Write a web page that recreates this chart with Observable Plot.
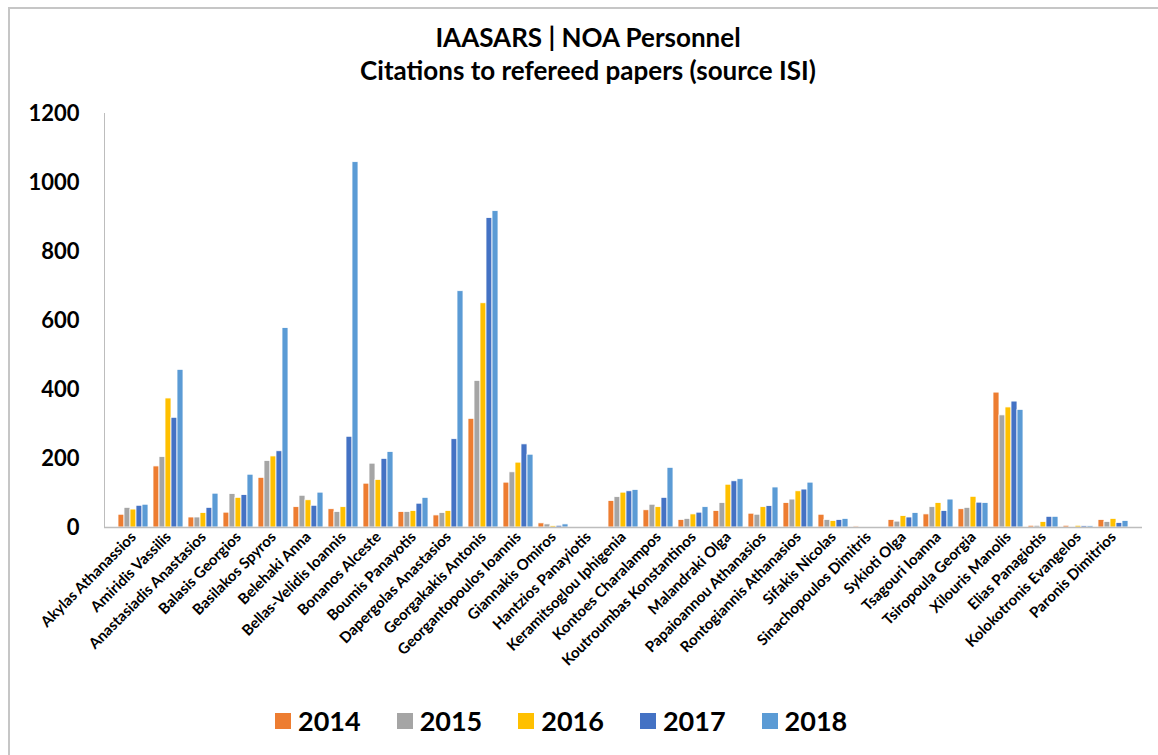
<!DOCTYPE html>
<html>
<head>
<meta charset="utf-8">
<script src="https://cdn.jsdelivr.net/npm/d3@7"></script>
<script src="https://cdn.jsdelivr.net/npm/@observablehq/plot@0.6"></script>
<style>
  html, body { margin: 0; padding: 0; background: #fff; }
  #wrap { position: relative; width: 1158px; height: 755px; overflow: hidden; font-family: Lato, "Open Sans", sans-serif; }
  #border { position: absolute; left: 8px; top: 7px; width: 1300px; height: 900px; border-top: 2px solid #c6c6c6; border-left: 2px solid #c6c6c6; }
  #title { position: absolute; left: 0; width: 1176px; top: 21px; text-align: center; font-weight: bold; font-size: 26px; line-height: 33px; color: #000; }
  .layer { position: absolute; left: 0; top: 0; }
  #legend { position: absolute; left: 275px; top: 704px; display: flex; gap: 36px; align-items: center; font-weight: bold; font-size: 27px; }
  .item { display: flex; align-items: center; gap: 7px; }
  .sw { width: 16px; height: 16px; display: inline-block; }
</style>
</head>
<body>
<div id="wrap">
  <div id="border"></div>
  <div id="title">IAASARS | NOA Personnel<br>Citations to refereed papers (source ISI)</div>
  <div id="chart" class="layer"></div>
  <div id="axes" class="layer"></div>
  <div id="legend"></div>
</div>
<script>
const names = [
  "Akylas Athanassios","Amiridis Vassilis","Anastasiadis Anastasios","Balasis Georgios",
  "Basilakos Spyros","Belehaki Anna","Bellas-Velidis Ioannis","Bonanos Alceste",
  "Boumis Panayotis","Dapergolas Anastasios","Georgakakis Antonis","Georgantopoulos Ioannis",
  "Giannakis Omiros","Hantzios Panayiotis","Keramitsoglou Iphigenia","Kontoes Charalampos",
  "Koutroumbas Konstantinos","Malandraki Olga","Papaioannou Athanasios","Rontogiannis Athanasios",
  "Sifakis Nicolas","Sinachopoulos Dimitris","Sykioti Olga","Tsagouri Ioanna",
  "Tsiropoula Georgia","Xilouris Manolis","Elias Panagiotis","Kolokotronis Evangelos","Paronis Dimitrios"
];
const years = ["2014","2015","2016","2017","2018"];
const colors = ["#ED7D31","#A5A5A5","#FFC000","#4472C4","#5B9BD5"];
const v2014 = [37,177,29,43,144,59,53,127,45,35,315,130,12,0,77,50,22,48,40,71,37,3,22,38,53,391,5,5,22];
const v2015 = [57,204,29,97,193,92,45,185,45,42,425,160,9,0,88,66,25,71,37,81,22,2,17,59,57,325,5,2,16];
const v2016 = [52,374,42,86,206,79,59,138,48,48,650,188,4,0,101,59,38,124,59,105,19,2,33,71,89,348,16,5,25];
const v2017 = [63,318,57,94,221,63,263,199,69,256,897,241,5,2,105,86,43,134,62,110,22,2,29,48,72,365,31,4,13];
const v2018 = [66,457,98,153,578,101,1059,219,86,685,917,211,9,2,109,173,59,140,116,130,25,2,42,81,71,341,31,4,19];
const yTicks = [0,200,400,600,800,1000,1200];

const series = [v2014, v2015, v2016, v2017, v2018];
const data = [];
names.forEach((n, i) => years.forEach((y, j) => data.push({name: n, year: y, value: series[j][i]})));

const W = 1158, H = 755, mL = 104, mR = 16, mT = 113, mB = 228;
const font = "Lato, 'Open Sans', sans-serif";

const chart = Plot.plot({
  width: W, height: H,
  marginLeft: mL, marginRight: mR, marginTop: mT, marginBottom: mB,
  style: {fontFamily: font, background: "transparent", color: "#000"},
  fx: {domain: names, paddingInner: 0.1, paddingOuter: 0.05, label: null},
  x: {domain: years, padding: 0, axis: null},
  y: {domain: [0, 1200], label: null},
  color: {domain: years, range: colors},
  marks: [
    Plot.barY(data, {fx: "name", x: "year", y: "value", fill: "year", stroke: "white", strokeWidth: 0.8}),
    Plot.axisY({ticks: yTicks, tickFormat: d => String(d), tickSize: 0, tickPadding: 38, fontSize: 22, fontWeight: "bold", label: null}),
    Plot.axisFx({anchor: "bottom", tickRotate: -45, tickSize: 0, tickPadding: 7, fontSize: 15, fontWeight: "bold", label: null})
  ]
});
document.getElementById("chart").appendChild(chart);

const axes = Plot.plot({
  width: W, height: H,
  marginLeft: mL, marginRight: mR, marginTop: mT, marginBottom: mB,
  style: {background: "transparent"},
  x: {domain: [0, 1], axis: null},
  y: {domain: [0, 1200], axis: null},
  marks: [
    Plot.ruleX([0], {y1: 0, y2: 1200, stroke: "#bdbdbd", strokeWidth: 1}),
    Plot.ruleY([0], {stroke: "#bdbdbd", strokeWidth: 1.5})
  ]
});
document.getElementById("axes").appendChild(axes);

const legend = document.getElementById("legend");
years.forEach((y, i) => {
  const it = document.createElement("div");
  it.className = "item";
  const sw = document.createElement("span");
  sw.className = "sw";
  sw.style.background = colors[i];
  const t = document.createElement("span");
  t.textContent = y;
  it.appendChild(sw); it.appendChild(t);
  legend.appendChild(it);
});
</script>
</body>
</html>
